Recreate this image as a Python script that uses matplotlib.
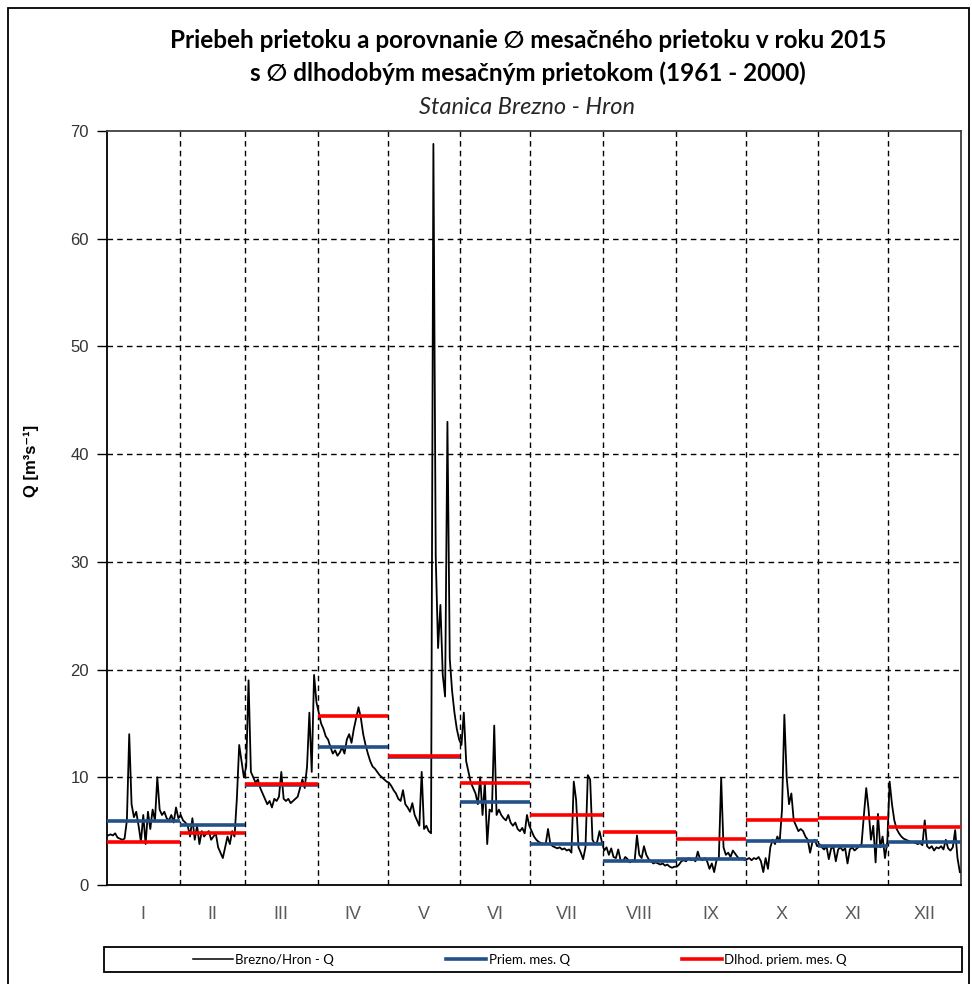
import numpy as np
import matplotlib
matplotlib.use("Agg")
import matplotlib.pyplot as plt
from matplotlib.patches import Rectangle
from matplotlib.lines import Line2D

# denne prietoky 2015 (odcitane z grafu), m3/s
q_jan = [4.6, 4.7, 4.6, 4.8, 4.4, 4.3, 4.2, 4.3, 6.0, 14.0, 7.5, 6.3, 6.8, 5.5, 4.0, 6.5,
         3.8, 6.8, 5.2, 7.0, 6.0, 10.0, 7.0, 6.5, 6.8, 6.2, 6.0, 6.5, 5.8, 7.2, 6.2]
q_feb = [6.5, 6.0, 5.8, 5.5, 4.5, 6.2, 4.2, 5.5, 3.8, 5.0, 4.5, 4.8, 5.0, 4.2, 4.5, 4.8,
         3.5, 3.0, 2.5, 3.5, 4.5, 3.8, 5.0, 4.5, 8.0, 13.0, 11.5, 10.0]
q_mar = [11.0, 19.0, 10.5, 10.0, 9.5, 9.8, 9.0, 8.5, 8.0, 7.5, 7.8, 7.2, 8.0, 7.8, 8.2, 10.5,
         8.0, 7.8, 8.0, 7.6, 7.8, 8.0, 8.2, 9.0, 9.8, 9.0, 11.0, 16.0, 10.5, 19.5, 17.0]
q_apr = [16.0, 15.0, 14.5, 13.8, 13.5, 12.8, 12.2, 12.5, 12.0, 12.3, 12.8, 12.2, 13.5, 14.0,
         13.2, 14.5, 15.5, 16.5, 15.5, 14.0, 13.0, 12.2, 11.5, 11.0, 10.8, 10.5, 10.2, 10.0,
         9.8, 9.6]
q_may = [9.5, 9.2, 8.8, 8.5, 8.0, 7.8, 8.8, 7.5, 7.2, 6.8, 7.6, 6.5, 6.0, 5.5, 10.5, 5.2,
         5.5, 5.0, 4.8, 68.8, 30.5, 22.0, 26.0, 19.5, 17.5, 43.0, 21.0, 18.0, 16.0, 14.5, 13.5]
q_jun = [13.0, 16.0, 11.5, 10.5, 9.5, 9.0, 8.5, 7.5, 10.0, 6.5, 9.5, 3.8, 7.0, 6.8, 14.8,
         6.5, 7.0, 6.5, 6.2, 6.0, 6.5, 5.8, 5.5, 5.8, 5.2, 5.0, 5.3, 4.8, 6.5, 5.5]
q_jul = [5.0, 4.5, 4.2, 4.0, 3.9, 3.8, 3.8, 5.2, 3.8, 3.6, 3.5, 3.4, 3.5, 3.3, 3.4, 3.2,
         3.3, 3.0, 9.6, 7.9, 3.5, 3.0, 2.4, 3.5, 10.2, 9.8, 4.2, 3.8, 4.0, 5.0, 4.0]
q_aug = [3.2, 3.5, 2.8, 3.4, 2.6, 2.5, 3.3, 2.3, 2.2, 2.6, 2.4, 2.1, 2.3, 2.2, 4.6, 2.8,
         2.5, 3.6, 2.8, 2.4, 2.2, 2.0, 2.1, 2.0, 1.9, 2.0, 1.8, 1.9, 1.7, 1.6, 1.7]
q_sep = [1.7, 1.9, 2.2, 2.3, 2.2, 2.5, 2.3, 2.4, 2.2, 3.1, 2.4, 2.3, 2.5, 2.2, 1.5, 2.0,
         1.2, 2.3, 2.5, 9.9, 3.5, 2.8, 3.0, 2.6, 3.2, 2.9, 2.6, 2.4, 2.5, 2.3]
q_oct = [2.4, 2.5, 2.3, 2.5, 2.4, 2.6, 2.2, 1.2, 2.5, 1.5, 3.5, 4.2, 3.8, 4.5, 4.0, 7.0,
         15.8, 10.0, 7.5, 8.5, 6.0, 5.5, 5.0, 5.2, 5.0, 4.5, 4.2, 3.0, 4.0, 4.2, 3.6]
q_nov = [3.8, 3.5, 3.3, 3.6, 2.4, 3.4, 3.5, 2.2, 3.3, 3.5, 3.2, 3.4, 2.0, 3.3, 3.5, 3.2,
         3.4, 3.6, 3.8, 6.5, 9.0, 7.0, 4.2, 5.5, 2.1, 6.6, 3.5, 4.5, 2.5, 4.0]
q_dec = [9.6, 7.5, 6.0, 5.2, 4.8, 4.5, 4.3, 4.2, 4.1, 4.0, 4.0, 3.9, 3.8, 3.9, 3.7, 6.0,
         3.6, 3.4, 3.6, 3.2, 3.5, 3.4, 3.6, 3.3, 4.2, 3.4, 3.2, 3.5, 5.1, 2.5, 1.2]

months = ['I', 'II', 'III', 'IV', 'V', 'VI', 'VII', 'VIII', 'IX', 'X', 'XI', 'XII']
month_days = [31, 28, 31, 30, 31, 30, 31, 31, 30, 31, 30, 31]
# priemerny mesacny prietok 2015
q_mean_2015 = [5.9, 5.55, 9.3, 12.8, 11.85, 7.7, 3.85, 2.25, 2.4, 4.1, 3.6, 3.95]
# dlhodoby priemerny mesacny prietok 1961-2000
q_mean_long = [4.0, 4.8, 9.4, 15.7, 12.0, 9.5, 6.5, 4.9, 4.25, 6.0, 6.2, 5.4]

q_daily = np.array(q_jan + q_feb + q_mar + q_apr + q_may + q_jun +
                   q_jul + q_aug + q_sep + q_oct + q_nov + q_dec)
days = np.arange(len(q_daily)) + 0.5
edges = np.concatenate([[0], np.cumsum(month_days)])
centers = (edges[:-1] + edges[1:]) / 2

W, H = 972, 984
fig = plt.figure(figsize=(W / 100, H / 100), dpi=100)
ax = fig.add_axes([107 / W, 1 - 885 / H, (961 - 107) / W, (885 - 131) / H])

ax.plot(days, q_daily, color='black', lw=1.3, zorder=3)
ax.hlines(q_mean_2015, edges[:-1], edges[1:], color='#24508a', lw=2.6, zorder=4)
ax.hlines(q_mean_long, edges[:-1], edges[1:], color='#ff0000', lw=2.6, zorder=5)

ax.set_xlim(0, 365)
ax.set_ylim(0, 70)

dash = (0, (4, 3))
for x in edges[1:-1]:
    ax.axvline(x, color='black', lw=1.0, ls=dash, zorder=2)
for y in range(10, 70, 10):
    ax.axhline(y, color='black', lw=1.0, ls=dash, zorder=2)

ax.set_yticks(range(0, 71, 10))
ax.tick_params(axis='y', direction='out', length=7, width=1, pad=6,
               labelsize=12, labelcolor='#333333')
ax.set_xticks(centers)
ax.set_xticklabels(months)
ax.tick_params(axis='x', length=0, pad=15, labelsize=13, labelcolor='#595959')
for lab in ax.get_xticklabels() + ax.get_yticklabels():
    lab.set_family('Liberation Sans')

for s in ['left', 'bottom']:
    ax.spines[s].set_color('black')
    ax.spines[s].set_linewidth(1.3)
for s in ['top', 'right']:
    ax.spines[s].set_color('#404040')
    ax.spines[s].set_linewidth(1.3)

fig.text(31 / W, 1 - 461 / H, 'Q [m³s⁻¹]', rotation=90, ha='center', va='center',
         fontsize=12, fontweight='bold', family=['Liberation Sans', 'DejaVu Sans'])

tfam = ['Lato', 'DejaVu Sans']
fig.text(0.543, 1 - 40 / H, 'Priebeh prietoku a porovnanie ∅ mesačného prietoku v roku 2015',
         ha='center', va='center', fontsize=17.5, fontweight='bold', family=tfam)
fig.text(0.543, 1 - 73 / H, 's ∅ dlhodobým mesačným prietokom (1961 - 2000)',
         ha='center', va='center', fontsize=17.5, fontweight='bold', family=tfam)
fig.text(0.542, 1 - 107 / H, 'Stanica Brezno - Hron', ha='center', va='center',
         fontsize=17, style='italic', family=tfam, color='#262626')

# ramcek okolo grafu
fig.patches.append(Rectangle((8 / W, -0.02), (969 - 8) / W, 1.02 - 8 / H,
                             transform=fig.transFigure, fill=False,
                             edgecolor='black', lw=1.3))
# ramcek legendy
fig.patches.append(Rectangle((104 / W, 1 - 972 / H), (962 - 104) / W, 25 / H,
                             transform=fig.transFigure, fill=False,
                             edgecolor='black', lw=1.3))

handles = [Line2D([], [], color='black', lw=1.1),
           Line2D([], [], color='#24508a', lw=2.6),
           Line2D([], [], color='#ff0000', lw=2.6)]
labels = ['Brezno/Hron - Q', 'Priem. mes. Q', 'Dlhod. priem. mes. Q']
fig.legend(handles, labels, loc='center', bbox_to_anchor=(520 / W, 1 - 959.5 / H),
           ncol=3, frameon=False, handlelength=3.0, handletextpad=0.2,
           columnspacing=8.5, prop={'family': 'Lato', 'size': 9.5})

fig.savefig('out.png', dpi=100)
